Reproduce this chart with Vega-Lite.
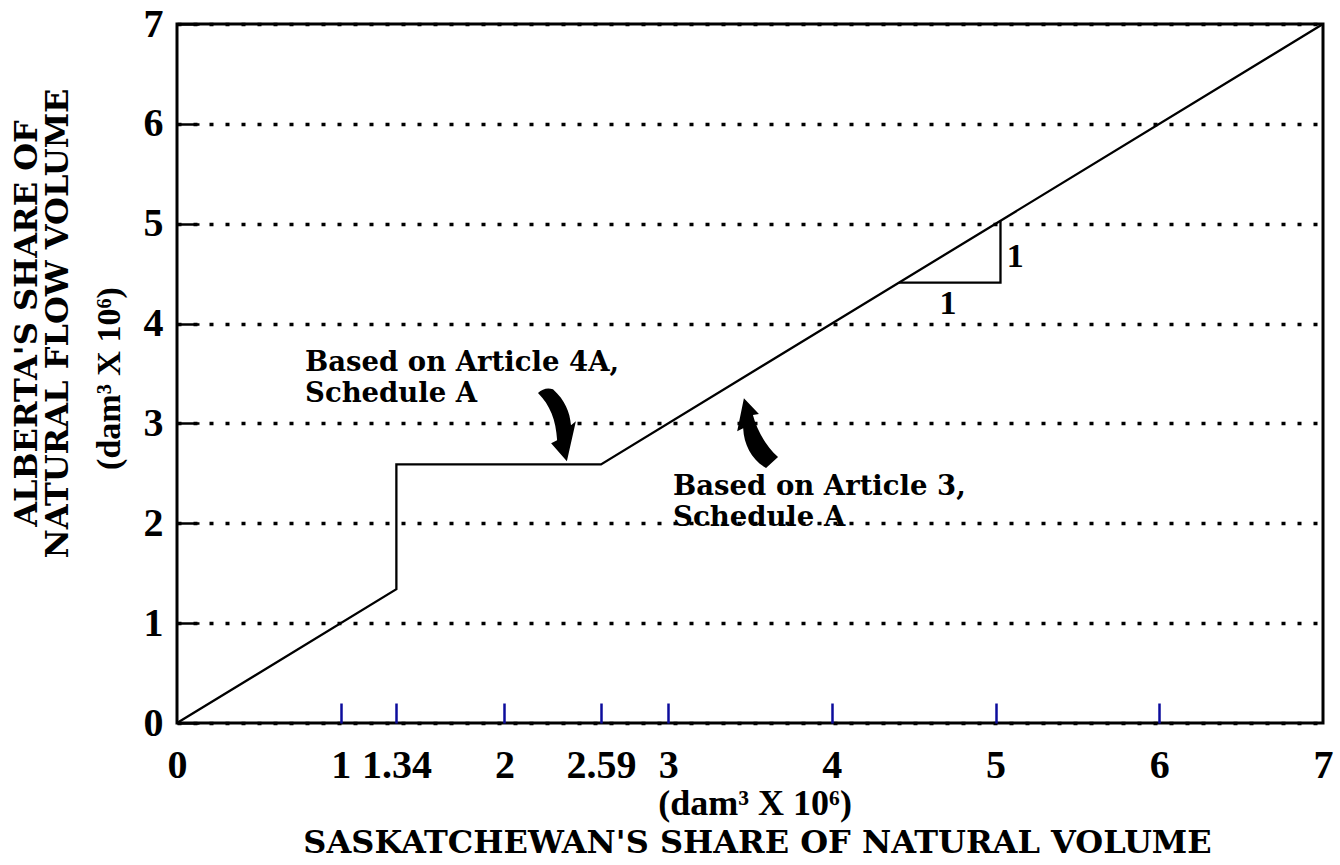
{
  "$schema": "https://vega.github.io/schema/vega-lite/v6.json",
  "width": 1146,
  "height": 699,
  "autosize": {"type": "none"},
  "padding": {"left": 177, "top": 24, "right": 17, "bottom": 142},
  "background": "white",
  "config": {"view": {"stroke": "black", "strokeWidth": 3}},
  "datasets": {
    "lines": [
      {"series": "share", "ord": 1, "x": 0, "y": 0},
      {"series": "share", "ord": 2, "x": 1.34, "y": 1.34},
      {"series": "share", "ord": 3, "x": 1.34, "y": 2.59},
      {"series": "share", "ord": 4, "x": 2.59, "y": 2.59},
      {"series": "share", "ord": 5, "x": 7, "y": 7},
      {"series": "slope", "ord": 1, "x": 4.41, "y": 4.41},
      {"series": "slope", "ord": 2, "x": 5.03, "y": 4.41},
      {"series": "slope", "ord": 3, "x": 5.03, "y": 5.03}
    ],
    "notes": [
      {"x": 0.782, "y": 3.53, "label": "Based on Article 4A,\nSchedule A"},
      {"x": 3.03, "y": 2.28, "label": "Based on Article 3,\nSchedule A"}
    ],
    "ones": [
      {"x": 5.12, "y": 4.565, "label": "1"},
      {"x": 4.71, "y": 4.1, "label": "1"}
    ],
    "unitX": [{"x": 3.531, "y": -0.925, "label": "(dam³ X 10⁶)"}],
    "unitY": [{"x": -0.35, "y": 3.45, "label": "(dam³ X 10⁶)"}],
    "arrowA": [{"x": 2.315, "y": 2.993}],
    "arrowB": [{"x": 3.543, "y": 2.903}]
  },
  "encoding": {
    "x": {
      "field": "x",
      "type": "quantitative",
      "scale": {"domain": [0, 7], "nice": false, "zero": false},
      "axis": {
        "orient": "bottom",
        "values": [0, 1, 1.34, 2, 2.59, 3, 4, 5, 6, 7],
        "labelExpr": "'' + datum.value",
        "domain": false,
        "grid": false,
        "ticks": true,
        "tickSize": -20,
        "tickWidth": 2.5,
        "tickColor": "#0c0c9c",
        "tickOpacity": {"condition": {"test": "datum.value == 0 || datum.value == 7", "value": 0}, "value": 1},
        "labelFont": "Liberation Serif",
        "labelFontSize": 40,
        "labelFontWeight": "bold",
        "labelColor": "black",
        "labelPadding": 42,
        "labelFlush": false,
        "labelOverlap": false,
        "labelBound": false,
        "title": "SASKATCHEWAN'S SHARE OF NATURAL VOLUME",
        "titleFont": "DejaVu Serif",
        "titleFontSize": 32,
        "titleFontWeight": "bold",
        "titleColor": "black",
        "titleX": 580,
        "titleY": 129,
        "titleAlign": "center",
        "titleBaseline": "alphabetic"
      }
    },
    "y": {
      "field": "y",
      "type": "quantitative",
      "scale": {"domain": [0, 7], "nice": false, "zero": false},
      "axis": {
        "orient": "left",
        "values": [0, 1, 2, 3, 4, 5, 6, 7],
        "labelExpr": "'' + datum.value",
        "domain": false,
        "grid": true,
        "gridColor": "black",
        "gridDash": [4, 12],
        "gridWidth": 3.5,
        "gridOpacity": 1,
        "ticks": true,
        "tickSize": -22,
        "tickWidth": 2.5,
        "tickColor": "black",
        "labelFont": "Liberation Serif",
        "labelFontSize": 40,
        "labelFontWeight": "bold",
        "labelColor": "black",
        "labelPadding": 36,
        "labelOverlap": false,
        "labelBound": false,
        "labelFlush": false,
        "title": ["ALBERTA'S SHARE OF", "NATURAL FLOW VOLUME"],
        "titleFont": "DejaVu Serif",
        "titleFontSize": 32,
        "titleFontWeight": "bold",
        "titleColor": "black",
        "titleLineHeight": 31,
        "titleAngle": -90,
        "titleX": -166,
        "titleY": 299,
        "titleAlign": "center",
        "titleBaseline": "top"
      }
    }
  },
  "layer": [
    {
      "data": {"name": "lines"},
      "mark": {"type": "line", "color": "black", "strokeWidth": 2.3},
      "encoding": {
        "detail": {"field": "series"},
        "order": {"field": "ord", "type": "quantitative"}
      }
    },
    {
      "data": {"name": "arrowA"},
      "mark": {
        "type": "point",
        "shape": "M -0.48 -0.83 Q -0.3 -1 -0.08 -0.93 C 0.24 -0.64 0.37 -0.32 0.4 0.03 L 0.53 -0.08 L 0.29 0.99 L -0.13 0.51 L 0.03 0.43 C 0 -0.11 -0.16 -0.51 -0.48 -0.83 Z",
        "size": 5625,
        "filled": true,
        "color": "black",
        "opacity": 1,
        "strokeWidth": 0
      }
    },
    {
      "data": {"name": "arrowB"},
      "mark": {
        "type": "point",
        "shape": "M -0.35 -0.93 L 0.05 -0.51 L -0.11 -0.48 C 0 -0.08 0.21 0.32 0.56 0.64 L 0.24 0.93 C -0.13 0.72 -0.35 0.32 -0.37 -0.13 L -0.53 -0.05 Z",
        "size": 5625,
        "filled": true,
        "color": "black",
        "opacity": 1,
        "strokeWidth": 0
      }
    },
    {
      "data": {"name": "notes"},
      "mark": {
        "type": "text",
        "align": "left",
        "baseline": "alphabetic",
        "font": "DejaVu Serif",
        "fontSize": 27.5,
        "fontWeight": "bold",
        "color": "black",
        "lineBreak": "\n",
        "lineHeight": 31
      },
      "encoding": {"text": {"field": "label"}}
    },
    {
      "data": {"name": "ones"},
      "mark": {
        "type": "text",
        "align": "center",
        "baseline": "alphabetic",
        "font": "Liberation Serif",
        "fontSize": 34,
        "fontWeight": "bold",
        "color": "black"
      },
      "encoding": {"text": {"field": "label"}}
    },
    {
      "data": {"name": "unitX"},
      "mark": {
        "type": "text",
        "align": "center",
        "baseline": "alphabetic",
        "font": "Liberation Serif",
        "fontSize": 36,
        "fontWeight": "bold",
        "color": "black",
        "clip": false
      },
      "encoding": {"text": {"field": "label"}}
    },
    {
      "data": {"name": "unitY"},
      "mark": {
        "type": "text",
        "align": "center",
        "baseline": "alphabetic",
        "angle": 270,
        "font": "Liberation Serif",
        "fontSize": 34,
        "fontWeight": "bold",
        "color": "black",
        "clip": false
      },
      "encoding": {"text": {"field": "label"}}
    }
  ]
}
